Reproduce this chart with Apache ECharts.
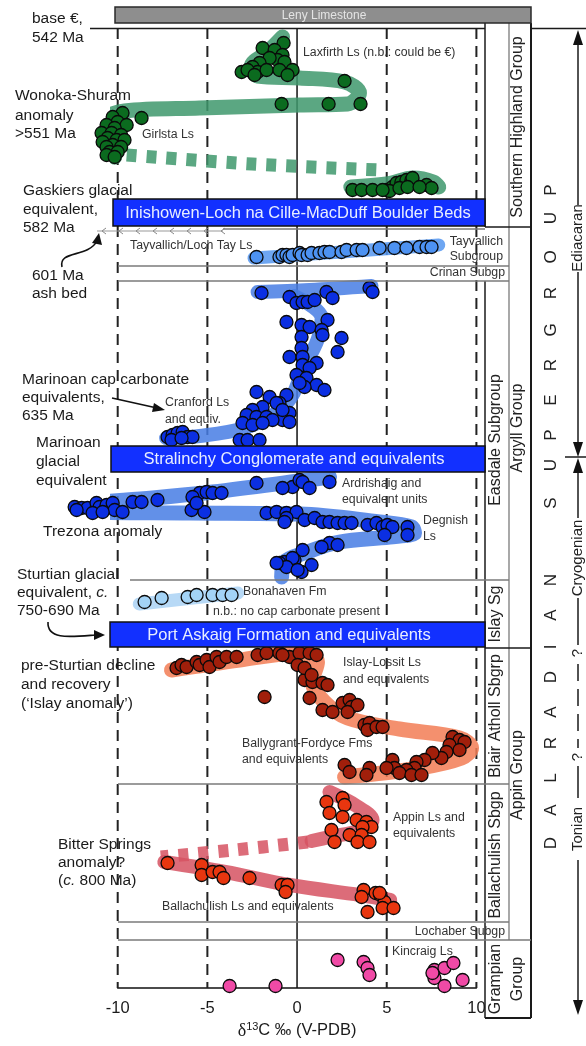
<!DOCTYPE html>
<html><head><meta charset="utf-8">
<script src="https://cdn.jsdelivr.net/npm/echarts@6/dist/echarts.min.js"></script>
<style>html,body{margin:0;padding:0;background:#fff}#c{width:586px;height:1046px}</style>
</head><body><div id="c"></div>
<script>
// ---------- axis ticks ----------
const xTicks = [-10, -5, 0, 5, 10];
const dashedRefs = [-10, -5, 5, 10];

// ---------- data: [d13C, stratigraphic height] ----------
const laxfirthLs = [[-0.75,94.5],[-1.92,94.0],[-1.25,93.8],[-0.81,93.3],[-1.09,92.8],[-1.53,93.0],[-2.09,92.5],[-0.70,92.6],[-2.48,92.1],[-3.09,91.6],[-2.20,91.6],[-2.76,91.8],[-1.70,91.8],[-0.98,91.8],[-0.25,91.8],[-2.37,91.3],[-0.53,91.3],[2.65,90.7],[-0.86,88.4],[1.76,88.4],[3.54,88.4]];
const girlstaLs = [[-9.73,87.5],[-10.28,87.1],[-8.67,87.0],[-10.0,86.6],[-10.62,86.3],[-9.5,86.3],[-10.17,86.0],[-10.9,85.5],[-10.34,85.5],[-9.81,85.3],[-10.56,85.0],[-10.06,84.8],[-10.84,84.6],[-9.62,84.8],[-10.28,84.3],[-10.62,84.1],[-9.81,84.1],[-10.45,83.6],[-10.0,83.6],[-10.62,83.3],[-10.17,83.1]];
const lowerSouthernHighland = [[3.09,79.8],[3.6,79.8],[4.21,79.8],[4.99,79.8],[5.32,80.1],[5.55,80.5],[5.82,80.6],[6.1,80.8],[6.38,80.8],[6.44,81.0],[7.22,80.3],[7.5,80.0],[5.16,79.7],[4.77,79.8],[5.71,80.0],[6.16,80.1],[6.83,80.1]];
const tayvallichLs = [[-2.26,73.1],[-0.98,73.1],[-0.81,73.3],[-0.59,73.3],[-0.42,73.1],[-0.25,73.3],[0.14,73.5],[0.25,73.3],[0.59,73.3],[0.81,73.5],[1.25,73.5],[1.53,73.6],[1.81,73.6],[2.48,73.6],[2.76,73.8],[3.32,73.8],[3.65,73.8],[4.6,74.0],[5.43,74.0],[6.1,74.0],[6.83,74.1],[7.22,74.1],[7.5,74.1]];
const easdaleUpper = [[4.04,70.0],[4.21,69.6],[1.64,69.6],[1.98,69.0],[-1.98,69.5],[-0.42,69.1],[-0.03,68.5],[0.31,68.6],[0.59,68.6],[0.98,68.8],[-0.59,66.6],[0.25,66.3],[0.7,66.1],[1.7,66.8],[1.37,65.8],[1.42,65.3],[2.48,65.0],[2.26,63.6],[0.25,65.1],[0.25,64.0],[-0.42,63.1],[0.31,63.1],[1.09,62.5],[0.31,62.3],[0.7,62.0],[-0.03,61.3],[0.53,61.0],[1.09,60.3],[1.53,59.8],[0.42,60.1],[0.14,60.5],[-0.59,59.3],[-0.98,58.5],[-0.42,57.5],[-0.81,56.8],[-2.26,59.6],[-1.53,59.1],[-1.14,58.5],[-0.81,57.8],[-1.92,58.1],[-2.48,57.8],[-2.81,57.3],[-2.26,57.1],[-1.7,57.1],[-1.37,56.8],[-3.04,56.5],[-2.48,56.3],[-1.92,56.5],[-0.42,56.6],[-3.2,54.8],[-2.76,54.8],[-2.09,54.8]];
const cranfordLs = [[-7.22,55.1],[-6.94,55.3],[-6.66,55.5],[-6.38,55.6],[-6.1,55.1],[-5.83,55.1],[-7.0,54.8],[-6.44,55.0]];
const ardrishaigTrezona = [[-2.26,50.5],[-0.25,50.1],[0.14,50.8],[0.31,50.6],[0.7,50.0],[1.81,50.6],[-0.81,50.0],[-12.4,48.1],[-12.01,48.0],[-11.68,48.0],[-11.18,48.5],[-11.01,48.1],[-10.62,48.3],[-10.28,48.5],[-10.17,47.8],[-9.73,47.6],[-9.17,48.6],[-8.67,48.6],[-7.78,48.8],[-5.43,49.5],[-5.04,49.6],[-4.71,49.5],[-4.21,49.5],[-5.83,49.1],[-5.88,47.8],[-5.16,47.6],[-5.6,48.5],[-12.29,47.8],[-11.4,47.5],[-10.84,47.6]];
const degnishLs = [[-1.7,47.5],[-1.14,47.6],[-0.59,47.5],[-0.03,47.6],[-0.59,47.0],[0.42,46.8],[0.98,47.0],[1.42,46.6],[1.81,46.6],[2.26,46.5],[2.65,46.5],[3.04,46.5],[3.93,46.3],[4.43,46.5],[4.77,46.1],[5.04,46.3],[5.32,46.1],[6.16,46.1],[6.16,45.3],[4.88,45.3],[-0.7,46.6],[1.81,44.5],[1.37,44.1],[2.26,44.3],[0.31,43.8],[-0.14,42.8],[-0.7,42.6],[0.81,42.3],[0.25,41.6],[-0.98,42.5],[-0.25,43.0],[-0.59,42.1],[-1.14,42.5],[0.03,41.8]];
const bonahavenFm = [[-8.5,38.6],[-7.55,39.0],[-6.1,39.1],[-5.6,39.3],[-4.71,39.3],[-4.15,39.3],[-3.65,39.3]];
const islayBlairAtholl = [[-6.72,32.0],[-6.44,32.3],[-6.16,32.1],[-5.6,32.6],[-5.43,32.3],[-5.04,32.8],[-4.88,32.1],[-4.49,33.1],[-4.32,32.6],[-3.93,33.1],[-3.37,33.1],[-2.2,33.3],[-1.7,33.5],[-0.98,33.5],[-0.42,33.1],[-0.81,33.3],[0.14,33.5],[0.7,33.5],[1.09,33.3],[0.42,30.8],[0.86,30.6],[1.42,30.5],[1.7,30.3],[0.03,32.3],[0.42,32.0],[0.81,31.3],[0.7,29.0],[1.42,27.8],[1.98,27.6],[2.54,28.5],[2.93,28.8],[3.04,28.1],[3.37,28.3],[2.82,27.6],[3.76,26.3],[4.04,26.5],[3.93,25.8],[4.43,26.1],[4.77,26.1],[8.67,25.1],[9.06,24.8],[9.34,24.6],[8.5,24.3],[9.06,23.8],[8.33,23.6],[8.05,23.0],[7.55,23.5],[7.11,22.8],[6.66,22.6],[6.55,22.0],[6.1,21.8],[5.32,22.8],[5.43,22.0],[4.99,22.0],[5.71,21.5],[6.38,21.3],[6.94,21.3],[4.04,22.0],[3.87,21.3],[2.65,22.3],[2.93,21.6],[-1.81,29.1]];
const appinLs = [[1.64,18.6],[2.54,19.0],[2.65,18.3],[1.81,17.5],[2.54,17.1],[3.32,16.8],[3.87,16.6],[4.15,16.1],[3.65,16.1],[1.92,15.8],[2.93,15.3],[3.6,15.3],[2.09,14.6],[3.37,14.6],[4.04,14.6]];
const ballachulishLs = [[-7.22,12.5],[-5.32,12.3],[-5.32,11.3],[-4.71,11.6],[-4.32,11.6],[-4.1,11.0],[-2.65,11.0],[-0.86,10.3],[-0.53,10.3],[-0.64,9.6],[3.71,9.8],[4.38,9.5],[4.65,9.3],[3.6,9.1],[4.88,8.6],[3.93,7.6],[4.77,8.0],[5.38,8.0],[4.6,9.5]];
const kincraigLs = [[2.26,2.8],[3.71,2.6],[3.93,2.0],[4.04,1.3],[-3.76,0.2],[-1.2,0.2],[7.66,1.8],[8.22,2.0],[8.72,2.5],[7.66,1.0],[8.22,0.2],[9.23,0.8],[7.55,1.5]];

// ---------- trend bands ----------
const bandGreenUpper = [[-0.81,95.1],[-1.64,93.6],[-2.54,92.2],[-2.2,91.2],[0.14,91.0],[2.65,90.6],[3.48,89.5],[2.82,88.4],[0.14,88.3],[-5.43,88.0],[-9.62,87.7],[-10.79,86.9],[-11.06,85.5],[-10.84,84.0],[-10.17,83.1]];
const bandGreenDashed = [[-9.5,83.3],[-2.5,82.4],[4.6,81.8]];
const bandGreenLower = [[3.0,80.1],[5.0,80.4],[6.5,81.0],[7.6,80.6],[7.9,80.1]];
const bandTayvallich = [[-2.4,73.0],[2.5,73.6],[7.9,74.3]];
const bandEasdaleTop = [[-2.2,69.6],[0.7,69.8],[4.15,70.2]];
const bandEasdaleCap = [[-0.14,69.2],[1.37,67.0],[1.14,64.8],[0.31,61.8],[-0.25,59.3],[-1.09,57.6],[-2.93,56.0],[-5.43,55.2],[-7.3,55.0]];
const bandTrezonaDegnish = [[1.81,51.1],[0.14,50.7],[-4.71,49.6],[-8.05,49.0],[-12.12,48.4],[-12.68,48.0],[-12.01,47.6],[-5.99,47.5],[0.14,47.4],[4.6,46.6],[6.38,46.1],[6.55,45.5],[5.16,45.1],[2.37,44.6],[0.42,43.5],[-0.7,42.6],[-0.86,41.1]];
const bandBonahaven = [[-8.8,38.4],[-3.3,39.5]];
const bandIslay = [[-7.0,31.8],[-3.2,32.8],[0.14,33.5],[1.14,32.6],[0.86,30.6],[1.53,28.6],[2.82,27.0],[5.71,25.9],[9.06,25.0],[9.73,24.0],[9.17,23.0],[6.83,22.0],[2.65,21.1]];
const bandAppin = [[1.81,19.6],[3.32,18.2],[4.21,16.8],[3.6,15.8],[1.81,15.1],[0.81,14.7]];
const bandBitterDashed = [[0.6,14.6],[-3.5,13.8],[-7.6,13.1]];
const bandBallachulish = [[-7.4,12.6],[-4.0,11.6],[-0.4,10.3],[3.5,9.3],[5.2,8.8]];

const FF = '"Liberation Sans", Arial, Helvetica, sans-serif';
const C = {green:'#0b6b1f', lightBlue:'#4d92f2', blue:'#0b2fe2', paleBlue:'#a3d3f6', darkRed:'#a11f0b', redOrange:'#e8360f', pink:'#f04aa6'};

const pointGroups = [
  [laxfirthLs, C.green],[girlstaLs, C.green],[lowerSouthernHighland, C.green],
  [tayvallichLs, C.lightBlue],[easdaleUpper, C.blue],[cranfordLs, C.blue],
  [ardrishaigTrezona, C.blue],[degnishLs, C.blue],[bonahavenFm, C.paleBlue],
  [islayBlairAtholl, C.darkRed],[appinLs, C.redOrange],[ballachulishLs, C.redOrange],[kincraigLs, C.pink]
];
const bands = [
  [bandGreenUpper,'rgba(62,152,108,0.85)',15,null],
  [bandGreenDashed,'rgba(62,152,108,0.85)',13,[10,10]],
  [bandGreenLower,'rgba(62,152,108,0.85)',15,null],
  [bandTayvallich,'rgba(85,150,240,0.85)',13,null],
  [bandEasdaleTop,'rgba(70,125,228,0.85)',14,null],
  [bandEasdaleCap,'rgba(70,125,228,0.85)',14,null],
  [bandTrezonaDegnish,'rgba(70,125,228,0.85)',15,null],
  [bandBonahaven,'rgba(175,213,245,0.9)',13,null],
  [bandIslay,'rgba(242,125,85,0.85)',15,null],
  [bandAppin,'rgba(214,82,98,0.85)',14,null],
  [bandBitterDashed,'rgba(214,82,98,0.85)',13,[10,10]],
  [bandBallachulish,'rgba(214,82,98,0.85)',14,null]
];

const series = [];
bands.forEach(b => series.push({
  type:'line', data:b[0], smooth:0.35, showSymbol:false, symbol:'none', clip:false, z:2, silent:true,
  lineStyle:{color:b[1], width:b[2], type:b[3] || 'solid', cap:b[3] ? 'butt' : 'round', join:'round'}
}));
pointGroups.forEach(g => series.push({
  type:'scatter', data:g[0], symbolSize:13, clip:false, z:4,
  itemStyle:{color:g[1], borderColor:'#0a0a0a', borderWidth:1.3, opacity:1}
}));

const chart = echarts.init(document.getElementById('c'), null, {renderer:'canvas'});
chart.setOption({
  animation:false,
  backgroundColor:'#fff',
  grid:{left:117.7, right:109.6, top:28, bottom:58},
  xAxis:{type:'value', min:xTicks[0], max:xTicks[xTicks.length-1], interval:5,
    axisLine:{show:true, lineStyle:{color:'#111', width:1.5}}, axisTick:{show:false}, splitLine:{show:false},
    axisLabel:{fontSize:16.5, color:'#1a1a1a', margin:12, fontFamily:FF},
    name:'{a|δ}{b|13}{c|C ‰ (V-PDB)}', nameLocation:'middle', nameGap:33,
    nameTextStyle:{color:'#1a1a1a', fontFamily:FF, fontSize:16.5, rich:{
      a:{fontSize:18, fontFamily:'"Liberation Serif", serif', color:'#1a1a1a'},
      b:{fontSize:11, verticalAlign:'top', lineHeight:12, color:'#1a1a1a', fontFamily:FF},
      c:{fontSize:16.5, color:'#1a1a1a', fontFamily:FF}}}},
  yAxis:{type:'value', min:0, max:96, show:false},
  series
});

// ---------- layout (graphic) ----------
const gx = v => chart.convertToPixel({xAxisIndex:0}, v);
const gy = v => chart.convertToPixel({yAxisIndex:0}, v);
const G = [];
const ln = (x1,y1,x2,y2,stroke,w,dash,z) => G.push({type:'line', silent:true, z:z||1, shape:{x1,y1,x2,y2}, style:{stroke, lineWidth:w, lineDash:dash||null}});
const rect = (x,y,w,h,fill,stroke,lw,z) => G.push({type:'rect', silent:true, z:z||10, shape:{x,y,width:w,height:h}, style:{fill, stroke, lineWidth:lw}});
const poly = (pts,fill,z) => G.push({type:'polygon', silent:true, z:z||12, shape:{points:pts}, style:{fill}});
const txt = (t,x,y,size,o) => { o = o || {}; G.push({type:'text', silent:true, z:20, x, y, rotation:o.rot||0,
  style:{text:t, fontSize:size, fontFamily:FF, fill:o.color||'#1a1a1a', align:o.align||'left', verticalAlign:'middle',
  rich:o.rich}}); };

// reference lines
dashedRefs.forEach(v => ln(gx(v), gy(96), gx(v), gy(0), '#222', 2, [11,7], 1));
ln(gx(0), gy(96), gx(0), gy(40.8), '#111', 1.5, null, 1);
ln(gx(0), gy(36.6), gx(0), gy(0), '#111', 1.5, null, 1);

// frame & columns
const DK = '#1a1a1a', GR = '#7a7a7a';
ln(90,28.5,485,28.5,DK,1.5,null,9);
ln(531,28.5,586,28.5,DK,1.5,null,9);
ln(485,23,485,227,DK,1.5,null,9);
ln(485,281,485,1018,DK,1.5,null,9);
ln(531,23,531,1018,DK,2,null,9);
ln(485,1018,531,1018,DK,2,null,9);
ln(509,23,509,940,GR,1.3,null,9);
ln(485,227,531,227,DK,1.5,null,9);
ln(223,229,485,229,GR,1.3,null,9);
ln(485,648,531,648,DK,1.5,null,9);
[[118,266,509],[118,281,509],[130,580,509],[118,784,509],[118,922,509],[118,940,531]].forEach(a => ln(a[0],a[1],a[2],a[1],GR,1.3,null,9));
// 601 Ma ash bed marker line with chevrons
ln(97,231,223,231,'#999',1,null,9);
for (let x = 102; x < 223; x += 17) G.push({type:'polyline', silent:true, z:9, shape:{points:[[x+4,228],[x,231],[x+4,234]]}, style:{stroke:'#888', lineWidth:1, fill:null}});

// Leny Limestone
rect(115,7,416,16,'#8e8e8e','#2a2a2a',1.5,10);
txt('Leny Limestone',324,15.5,12,{align:'center', color:'#e4e4e4'});

// glacial units (blue boxes)
const glacial = [
  ['Inishowen-Loch na Cille-MacDuff Boulder Beds',113,199,226,298],
  ['Stralinchy Conglomerate and equivalents',111,446,472,294],
  ['Port Askaig Formation and equivalents',110,622,647,289]
];
glacial.forEach(g => { rect(g[1],g[2],485-g[1],g[3]-g[2],'#1230ff','#111',1.5,10); txt(g[0],g[4],(g[2]+g[3])/2+0.5,16.5,{align:'center', color:'#e8eeff'}); });

// big annotations
const B = 15.5;
const ital = {i:{fontStyle:'italic', fontSize:B, fontFamily:FF, fill:'#1a1a1a'}};
[['base €,',32,19],['542 Ma',32,38],['Wonoka-Shuram',15,96],['anomaly',15,116],['>551 Ma',15,134],
 ['Gaskiers glacial',23,191],['equivalent,',23,210],['582 Ma',23,228],['601 Ma',32,276],['ash bed',32,294],
 ['Marinoan cap carbonate',22,380],['equivalents,',22,398],['635 Ma',22,416],
 ['Marinoan',36,443],['glacial',36,462],['equivalent',36,481],['Trezona anomaly',43,532],
 ['Sturtian glacial',17,575],['equivalent, {i|c.}',17,593],['750-690 Ma',17,611],
 ['pre-Sturtian decline',21,666],['and recovery',21,685],['(‘Islay anomaly’)',21,704],
 ['Bitter Springs',58,845],['anomaly?',58,863],['({i|c.} 800 Ma)',58,881]
].forEach(a => txt(a[0],a[1],a[2],B,{rich:ital}));

// small unit labels
const S = 12.3, SC = '#333';
[['Laxfirth Ls (n.b.: could be €)',303,53],['Girlsta Ls',142,135],['Tayvallich/Loch Tay Ls',130,246],
 ['Cranford Ls',165,403],['and equiv.',165,420],['Ardrishaig and',342,484],['equivalent units',342,500],
 ['Degnish',423,521],['Ls',423,537],['Bonahaven Fm',243,592],['n.b.: no cap carbonate present',213,612],
 ['Islay-Lossit Ls',343,663],['and equivalents',343,680],['Ballygrant-Fordyce Fms',242,744],['and equivalents',242,760],
 ['Appin Ls and',393,818],['equivalents',393,834],['Ballachulish Ls and equivalents',162,907],['Kincraig Ls',392,952]
].forEach(a => txt(a[0],a[1],a[2],S,{color:SC}));
[['Tayvallich',503,242],['Subgroup',503,257],['Crinan Subgp',505,273],['Lochaber Subgp',505,932]].forEach(a => txt(a[0],a[1],a[2],S,{color:SC, align:'right'}));

// rotated column labels
const R = Math.PI/2;
[['Southern Highland Group',518,127],['Easdale Subgroup',496,440],['Argyll Group',518,428],['Islay Sg',496,614],
 ['Blair Atholl Sbgrp',496,716],['Ballachulish Sbgp',496,855],['Appin Group',518,775],['Grampian',496,979],['Group',518,979]
].forEach(a => txt(a[0],a[1],a[2],16,{rot:R, align:'center', color:'#222'}));

// supergroup letters
const letters = [['D',843],['A',810],['L',778],['R',743],['A',712],['D',677],['I',647],['A',615],['N',580],
 ['S',503],['U',465],['P',435],['E',400],['R',365],['G',330],['R',293],['O',257],['U',218],['P',190]];
letters.forEach(l => txt(l[0],551,l[1],17,{rot:R, align:'center', color:'#222'}));

// periods
const PX = 578;
poly([[PX,30],[PX-5,45],[PX+5,45]],'#111');
ln(PX,40,PX,205,DK,1.5,null,9);
txt('Ediacaran',PX,238,15,{rot:R, align:'center', color:'#222'});
ln(PX,272,PX,448,DK,1.5,null,9);
poly([[PX,457],[PX-5,442],[PX+5,442]],'#111');
ln(565,457,586,457,DK,1.5,null,9);
poly([[PX,458],[PX-5,473],[PX+5,473]],'#111');
ln(PX,470,PX,518,DK,1.5,null,9);
txt('Cryogenian',PX,558,15,{rot:R, align:'center', color:'#222'});
ln(PX,598,PX,645,DK,1.5,null,9);
txt('?',PX,653,15,{rot:R, align:'center', color:'#222'});
ln(PX,664,PX,748,DK,1.5,[17,8],9);
txt('?',PX,757,15,{rot:R, align:'center', color:'#222'});
ln(PX,766,PX,798,DK,1.5,null,9);
txt('Tonian',PX,829,15,{rot:R, align:'center', color:'#222'});
ln(PX,860,PX,1003,DK,1.5,null,9);
poly([[PX,1015],[PX-5,1000],[PX+5,1000]],'#111');

// arrows
G.push({type:'bezierCurve', silent:true, z:12, shape:{x1:62,y1:267,cpx1:58,cpy1:250,cpx2:88,cpy2:258,x2:97,y2:241}, style:{stroke:'#111', lineWidth:1.6, fill:null}});
poly([[99,233],[92,243],[102,245]],'#111');
ln(112,398,157,408,'#111',1.6,null,12);
poly([[165,410],[154,403],[152,412]],'#111');
G.push({type:'bezierCurve', silent:true, z:12, shape:{x1:48,y1:622,cpx1:47,cpy1:640,cpx2:70,cpy2:637,x2:95,y2:635}, style:{stroke:'#111', lineWidth:1.6, fill:null}});
poly([[105,635],[94,630],[94,640]],'#111');

chart.setOption({graphic:{elements:G}});
</script></body></html>
